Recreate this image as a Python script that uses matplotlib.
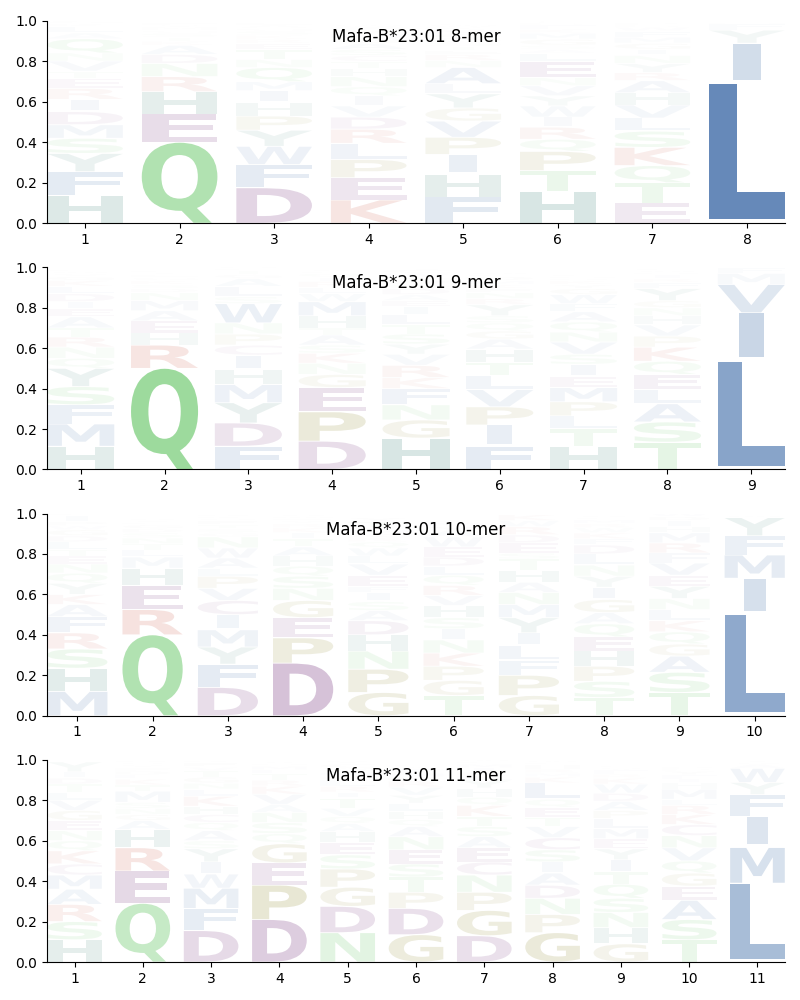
import matplotlib
matplotlib.use('Agg')
import matplotlib.pyplot as plt
from matplotlib.font_manager import FontProperties
from matplotlib.patches import PathPatch
from matplotlib.textpath import TextPath
from matplotlib.transforms import Affine2D

titles = ['Mafa-B*23:01 8-mer', 'Mafa-B*23:01 9-mer', 'Mafa-B*23:01 10-mer', 'Mafa-B*23:01 11-mer']

# letters bottom to top for each position, heights in the same order
letters_8 = ['HFYSMDIRETVNQALKGWCP', 'QEHRNDAKTSGMYFLVPIWC', 'DFWYPHIMQNTERKSGAL',
             'KEPLRDVIQNHTCSAGMYFW', 'FHIPVGYLANRETSDQMKWC', 'HTPQRIWYVNELASGMKFDC',
             'ETQKSLVHARYNIGMFWDP', 'LIYFMKE']
heights_8 = [[.137, .118, .09, .075, .067, .065, .06, .055, .05, .035, .05, .04, .07, .03, .03, .015, .015, .005, .005, .003],
             [.40, .14, .11, .075, .065, .045, .045, .02, .02, .02, .015, .015, .01, .01, .005, .005, .005, .003, .003, .003],
             [.175, .115, .09, .08, .07, .065, .06, .045, .07, .04, .05, .03, .02, .02, .02, .015, .015, .01],
             [.115, .11, .09, .08, .07, .06, .055, .05, .045, .05, .04, .035, .03, .03, .03, .025, .02, .02, .015, .01],
             [.13, .11, .10, .085, .08, .065, .07, .05, .08, .035, .03, .02, .02, .02, .02, .02, .02, .015, .01, .01],
             [.155, .105, .095, .06, .06, .05, .055, .05, .05, .04, .08, .04, .02, .02, .03, .03, .02, .02, .01, .01],
             [.10, .10, .085, .09, .08, .065, .065, .06, .06, .04, .045, .04, .03, .03, .03, .03, .02, .01, .01],
             [.69, .20, .065, .03, .008, .004, .003]]

letters_9 = ['HMFSYQNRTAEIDLKGVWPC', 'QRHEAMNDSKGLYFVP', 'FDYMHICPNWSLAGTEQKRV',
             'DPEGNKSATHMWLRIQCV', 'HGNFKRVYSTLIEADQPMWC', 'FIPVLTHAGQSYRNEKMDCW',
             'HTLPMEISVNQAFWGYKRDC', 'TSALEQKPVHNGYFRIDWC', 'LIVMF']
heights_9 = [[.115, .11, .095, .09, .09, .05, .055, .05, .045, .055, .04, .035, .04, .035, .03, .02, .015, .01, .01, .005],
             [.50, .115, .06, .06, .05, .05, .04, .02, .02, .02, .015, .015, .01, .01, .005, .005],
             [.115, .115, .10, .09, .075, .07, .05, .055, .055, .095, .035, .05, .04, .02, .02, .01, .01, .005, .005, .005],
             [.14, .145, .12, .065, .055, .05, .04, .05, .035, .06, .07, .04, .03, .03, .02, .02, .01, .01],
             [.155, .09, .075, .08, .055, .06, .055, .05, .05, .045, .05, .04, .03, .03, .03, .02, .02, .015, .02, .02],
             [.115, .105, .09, .085, .07, .065, .065, .05, .04, .04, .035, .055, .03, .03, .02, .02, .02, .02, .01, .01],
             [.115, .085, .065, .07, .07, .055, .06, .05, .06, .05, .05, .05, .04, .045, .03, .02, .02, .01, .01, .01],
             [.135, .10, .09, .07, .075, .065, .07, .055, .055, .045, .04, .035, .06, .03, .02, .02, .01, .01, .01],
             [.535, .24, .14, .055, .03]]

letters_10 = ['MHSRFAKYQNETLDGWPICV', 'QREHMLTNSDGFYVP', 'DFYMICVPLAWNGSTEQKR',
              'DPEGNSQHATIKRYFMV', 'GPNHDASIFEVLWQRKMCTY', 'TGPKNISHVRQLDEWAYMC',
              'GPFLIYMNAHTSEDRWKQ', 'TSPHEQAGIYNLDFKWRMCV', 'TSAGQKLNYEVFRMHIDWP', 'LIMFYW']
heights_10 = [[.12, .115, .095, .08, .08, .06, .05, .055, .05, .045, .04, .03, .04, .03, .03, .02, .02, .03, .01, .005],
              [.40, .125, .12, .085, .055, .035, .03, .03, .025, .02, .02, .01, .01, .01, .005],
              [.14, .115, .085, .085, .075, .07, .06, .06, .04, .05, .05, .055, .02, .02, .02, .02, .01, .01, .01],
              [.26, .125, .10, .085, .06, .06, .05, .05, .045, .04, .03, .025, .02, .015, .01, .01, .01],
              [.115, .115, .09, .08, .07, .05, .045, .045, .03, .055, .055, .04, .04, .03, .02, .02, .02, .01, .03, .02],
              [.10, .075, .07, .065, .065, .055, .055, .06, .05, .05, .05, .045, .045, .05, .05, .03, .02, .02, .01],
              [.10, .10, .075, .07, .065, .075, .065, .06, .05, .06, .055, .03, .05, .04, .04, .03, .03, .005],
              [.09, .08, .075, .075, .07, .065, .055, .065, .06, .055, .055, .055, .045, .03, .03, .025, .02, .02, .01, .01],
              [.115, .10, .08, .06, .06, .055, .055, .055, .06, .055, .06, .05, .05, .05, .03, .03, .02, .02, .005],
              [.50, .18, .115, .095, .09, .01]]

letters_11 = ['HSRAMCKQNEGVLTDIY', 'QERHAGNSMTKLDFYVP', 'DFMWIYSAQCHKLNGTVERP',
              'DPEGQSNAVKRTLMHY', 'NDGPSEHAQVTIRLKMFWCY', 'GDPTSENAQHLYVRKMFWC',
              'DGPNCEASTKQHYLRIMFW', 'GPNDAISCVTEQLKMRHFW', 'GHNSQTIYEMLPADWKRFVC',
              'TSAEGQVNCKRLMHIFYDP', 'LMIFYWAST']
heights_11 = [[.11, .09, .085, .075, .07, .055, .065, .05, .05, .05, .05, .05, .04, .04, .03, .03, .05],
              [.29, .16, .115, .09, .045, .03, .03, .03, .055, .03, .03, .02, .02, .015, .015, .01, .01],
              [.155, .11, .10, .07, .06, .065, .04, .05, .04, .04, .04, .05, .035, .03, .03, .03, .02, .02, .01, .005],
              [.21, .17, .11, .095, .05, .055, .05, .04, .05, .04, .03, .03, .02, .02, .01, .01],
              [.145, .13, .095, .09, .07, .06, .055, .04, .035, .04, .05, .03, .03, .03, .02, .02, .01, .01, .02, .015],
              [.135, .13, .08, .075, .065, .07, .065, .05, .035, .04, .04, .04, .04, .03, .02, .02, .02, .01, .01],
              [.13, .125, .09, .085, .065, .07, .055, .05, .05, .055, .04, .045, .04, .02, .02, .02, .02, .01, .01],
              [.145, .09, .08, .065, .06, .055, .06, .06, .055, .045, .05, .04, .08, .03, .02, .02, .02, .01, .01],
              [.09, .08, .075, .07, .07, .06, .06, .055, .05, .05, .05, .04, .045, .04, .045, .03, .02, .02, .01, .01],
              [.11, .10, .095, .07, .065, .06, .065, .06, .055, .05, .045, .03, .05, .03, .02, .02, .02, .01, .01],
              [.39, .176, .152, .11, .06, .07, .02, .01, .01]]

all_letters = [letters_8, letters_9, letters_10, letters_11]
all_heights = [heights_8, heights_9, heights_10, heights_11]

blue = (33 / 255, 85 / 255, 154 / 255)
green = (61 / 255, 183 / 255, 61 / 255)
purple = (97 / 255, 20 / 255, 105 / 255)
teal = (12 / 255, 98 / 255, 84 / 255)
red = (185 / 255, 29 / 255, 3 / 255)
olive = (120 / 255, 114 / 255, 0)
colors = {'L': blue, 'I': blue, 'F': blue, 'M': blue, 'V': blue, 'W': blue, 'A': blue,
          'Q': green, 'N': green, 'S': green, 'T': green,
          'D': purple, 'E': purple, 'C': purple,
          'H': teal, 'Y': teal,
          'K': red, 'R': red,
          'P': olive, 'G': olive}

font = FontProperties(family='DejaVu Sans', weight='bold')


def letter_alpha(h):
    # rare letters fade out quicker than their height
    if h >= 0.12:
        return h
    return h * (h / 0.12) ** 0.5


def draw_letter(ax, ch, x, y, w, h):
    # fit the glyph outline into its box
    path = TextPath((0, 0), ch, size=1, prop=font)
    box = path.get_extents()
    gw = w
    # I is a plain bar, the others fill the column
    if ch == 'I':
        gw = w * 0.37
    bottom = y + 0.002
    height = h - 0.004
    if ch == 'L':
        bottom += 0.03 * h
        height -= 0.03 * h
    elif ch == 'I':
        bottom += 0.09 * h
        height -= 0.09 * h
    tr = (Affine2D().translate(-box.x0, -box.y0)
          .scale(gw / box.width, height / box.height)
          .translate(x - gw / 2, bottom))
    patch = PathPatch(path, lw=0, fc=colors[ch], alpha=letter_alpha(h),
                      transform=tr + ax.transData)
    ax.add_patch(patch)


fig, axes = plt.subplots(4, 1, figsize=(8, 10), dpi=100)
fig.subplots_adjust(left=0.059, right=0.981, top=0.979, bottom=0.038, hspace=0.218)

for ax, title, letters, heights in zip(axes, titles, all_letters, all_heights):
    for i in range(len(letters)):
        y = 0
        for ch, h in zip(letters[i], heights[i]):
            draw_letter(ax, ch, i + 1, y, 0.8, h)
            y += h
    n = len(letters)
    ax.set_xlim(0.6, n + 0.4)
    ax.set_ylim(0, 1)
    ax.set_xticks(range(1, n + 1))
    ax.set_yticks([0, 0.2, 0.4, 0.6, 0.8, 1.0])
    ax.spines['top'].set_visible(False)
    ax.spines['right'].set_visible(False)
    ax.set_title(title, y=0.895, pad=0)

plt.savefig('out.png')
